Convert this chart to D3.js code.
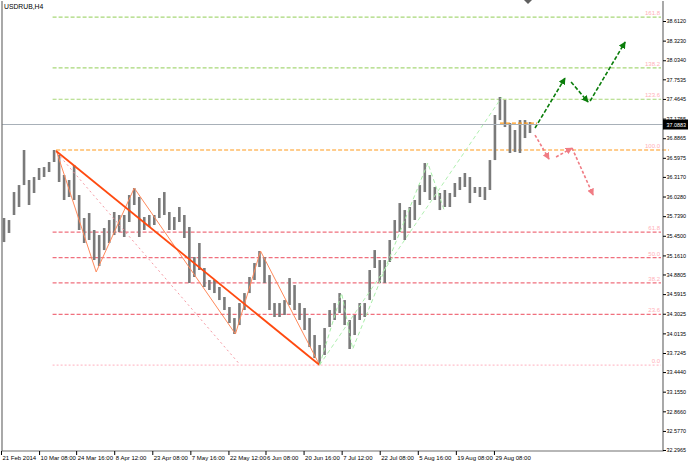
<!DOCTYPE html>
<html><head><meta charset="utf-8">
<script src="https://cdn.jsdelivr.net/npm/d3@7"></script>
<style>
html,body{margin:0;padding:0;background:#fff;}
svg{display:block;font-family:"Liberation Sans",Arial,sans-serif;}
</style></head><body>
<svg id="c" width="688" height="463"></svg>
<script>
// ---- data (bar groups, ~8 H4 bars each) ----
const barHigh = [35.712,35.682,36.094,36.197,36.713,36.271,36.315,36.448,36.462,36.536,
36.713,36.639,36.345,36.271,36.492,36.050,35.712,35.785,35.535,35.461,
35.564,35.682,35.800,35.756,35.756,36.050,36.153,36.021,35.726,35.756,
35.756,36.006,36.094,35.800,35.726,35.874,35.756,35.579,35.137,35.344,
34.976,34.799,34.799,34.696,34.549,34.401,34.239,34.460,34.607,34.843,
35.049,35.226,35.137,34.872,34.460,34.460,34.504,34.828,34.725,34.460,
34.387,34.239,33.989,33.842,34.092,34.357,34.460,34.607,34.504,34.210,
34.284,34.460,34.460,34.946,35.240,35.093,35.093,35.388,35.682,35.932,
35.829,35.874,35.977,36.197,36.521,36.345,36.168,36.080,36.124,36.080,
36.227,36.315,36.374,36.315,36.168,36.168,36.168,36.565,37.228,37.493,
37.449,37.110,37.007,37.154,37.154,37.125];
const barLow = [35.358,35.491,35.756,35.874,36.197,35.903,36.080,36.271,36.315,36.389,
36.536,36.242,35.977,36.021,35.977,35.535,35.344,35.388,35.093,35.005,
35.240,35.344,35.461,35.505,35.432,35.653,35.903,35.432,35.535,35.579,
35.609,35.712,35.756,35.535,35.535,35.653,35.417,34.755,34.843,34.946,
34.696,34.652,34.607,34.504,34.357,34.166,34.004,34.136,34.357,34.607,
34.799,34.990,34.755,34.357,34.254,34.254,34.284,34.431,34.357,34.210,
34.063,33.812,33.650,33.562,33.695,34.107,34.210,34.313,34.136,33.783,
33.989,34.210,34.254,34.504,34.976,34.755,34.755,35.064,35.388,35.505,
35.388,35.564,35.682,35.903,36.094,35.977,35.977,35.829,35.874,35.874,
36.021,36.124,36.168,35.932,36.080,36.021,35.977,36.124,36.565,37.154,
37.051,36.669,36.683,36.669,36.889,36.963];
const lastPrice = 37.0883;

const yTicks = [38.6120,38.3230,38.0340,37.7535,37.4645,37.1755,36.8865,36.5975,36.3170,36.0280,
35.7390,35.4500,35.1610,34.8805,34.5915,34.3025,34.0135,33.7245,33.4440,33.1550,32.8660,32.5770,32.2965];
const xTickPos = [-0.6,7,14.4,22,29.6,37.2,44.8,52.2,59.8,67.4,75,82.6,90.2,97.8];
const xTickLabels = ["21 Feb 2014","10 Mar 08:00","24 Mar 16:00","8 Apr 12:00","23 Apr 08:00","7 May 16:00",
"22 May 12:00","6 Jun 08:00","20 Jun 16:00","7 Jul 12:00","22 Jul 08:00","5 Aug 16:00","19 Aug 08:00","29 Aug 08:00"];

// Fibonacci retracement (anchor high / low)
const fibHigh = 36.713, fibLow = 33.547;
const fibRatios = [1.618,1.382,1.236,1.0,0.618,0.5,0.382,0.236,0.0];
const fibLabels = ["161.8","138.2","123.6","100.0","61.8","50.0","38.2","23.6","0.0"];
const fibStart = [9.7,9.7,9.7,10.4,9.7,9.7,9.7,9.7,9.7];

// wave / trend lines: [index, price]
const mainTrend = [[10.4,36.698],[63,33.547]];
const waveDown = [[10.4,36.713],[18.4,34.917],[26,36.153],[46.2,34.004],[51.2,35.226],[63,33.547]];
const channelPink = [[10.6,36.669],[47,33.562]];
const waveUp = [[63,33.547],[67.4,34.607],[69.6,33.783],[84.6,36.521],[88,35.800]];
const upTrend = [[63,33.547],[99.4,37.493]];
const orangeShort = [[99,37.110],[106.4,37.110]];
// projections
const greenArrows = [[[106,37.037],[112,37.773]],[[113.2,37.714],[116.6,37.419]],[[117,37.434],[124,38.303]]];
const redArrows = [[[106,36.933],[108.8,36.580]],[[110.2,36.610],[113.4,36.742]],[[113.4,36.742],[117.6,36.050]]];

// ---- drawing ----
const svg = d3.select("#c");
const L=2, R=663, T=1, B=451;
const x = d3.scaleLinear().domain([0,105]).range([4,530]);
const y = d3.scaleLinear().domain([32.2965,38.612]).range([450,21]);

const defs = svg.append("defs");
function marker(id,color){
  defs.append("marker").attr("id",id).attr("viewBox","0 0 10 10").attr("refX",9).attr("refY",5)
   .attr("markerWidth",7).attr("markerHeight",7).attr("markerUnits","userSpaceOnUse").attr("orient","auto")
   .append("path").attr("d","M0,0 L10,5 L0,10 z").attr("fill",color);
}
marker("ag","#0a7d0a"); marker("ar","#f07c84");

svg.append("rect").attr("x",0).attr("y",0).attr("width",688).attr("height",463).attr("fill","#fff");

// fib lines
const fibColor = r => r>1 ? "#a8d878" : (r===1 ? "#ff9a1a" : (r===0 ? "#ffc0cb" : "#f0707e"));
fibRatios.forEach((r,i)=>{
  const v = fibLow + r*(fibHigh-fibLow);
  svg.append("line").attr("x1",x(fibStart[i])).attr("x2", r===1?669:661)
   .attr("y1",y(v)).attr("y2",y(v)).attr("stroke",fibColor(r)).attr("stroke-width",1.2)
   .attr("stroke-dasharray", r===0 ? "2,2" : "4,2");
});

// bars
svg.append("g").selectAll("line").data(barHigh).join("line")
 .attr("x1",(d,i)=>x(i)).attr("x2",(d,i)=>x(i))
 .attr("y1",d=>y(d)).attr("y2",(d,i)=>y(barLow[i]))
 .attr("stroke","#7a7a7a").attr("stroke-width",2.6);

const line = d3.line().x(d=>x(d[0])).y(d=>y(d[1]));
svg.append("path").attr("d",line(channelPink)).attr("fill","none").attr("stroke","#f59aa4").attr("stroke-width",1).attr("stroke-dasharray","2,3");
svg.append("path").attr("d",line(waveDown)).attr("fill","none").attr("stroke","#ff8a5c").attr("stroke-width",1);
svg.append("path").attr("d",line(mainTrend)).attr("fill","none").attr("stroke","#ff4a10").attr("stroke-width",1.8);
svg.append("path").attr("d",line(waveUp)).attr("fill","none").attr("stroke","#a8eea8").attr("stroke-width",1).attr("stroke-dasharray","4,3");
svg.append("path").attr("d",line(upTrend)).attr("fill","none").attr("stroke","#b0f0b0").attr("stroke-width",1).attr("stroke-dasharray","4,3");
svg.append("path").attr("d",line(orangeShort)).attr("fill","none").attr("stroke","#ff9a1a").attr("stroke-width",1.2).attr("stroke-dasharray","4,2");

greenArrows.forEach(a=>svg.append("path").attr("d",line(a)).attr("fill","none").attr("stroke","#0a7d0a")
  .attr("stroke-width",1.6).attr("stroke-dasharray","4,2").attr("marker-end","url(#ag)"));
redArrows.forEach(a=>svg.append("path").attr("d",line(a)).attr("fill","none").attr("stroke","#f07c84")
  .attr("stroke-width",1.6).attr("stroke-dasharray","3,2").attr("marker-end","url(#ar)"));

// bid line
svg.append("line").attr("x1",L).attr("x2",R).attr("y1",y(lastPrice)).attr("y2",y(lastPrice)).attr("stroke","#a8b0b8").attr("stroke-width",1);

// fib labels
fibRatios.forEach((r,i)=>{
  const v = fibLow + r*(fibHigh-fibLow);
  svg.append("text").attr("x",660).attr("y",y(v)-2).attr("text-anchor","end").attr("font-size",6)
   .attr("fill","#ffb0b8").text(fibLabels[i]);
});

// frame
svg.append("path").attr("d",`M${L},${T}V${B}H${R}V${T}`).attr("fill","none").attr("stroke","#707070").attr("stroke-width",1.2);
svg.append("path").attr("d","M524,0 L532,0 L528,4 Z").attr("fill","#606060");

// right axis
const ya = svg.append("g").attr("transform",`translate(${R},0)`)
 .call(d3.axisRight(y).tickValues(yTicks).tickSize(3).tickFormat(d3.format(".4f")));
ya.select(".domain").remove();
ya.selectAll("line").attr("stroke","#000");
ya.selectAll("text").attr("font-size",5.4).attr("fill","#000").attr("x",3.5);

// current price box
svg.append("rect").attr("x",R).attr("y",y(lastPrice)-5).attr("width",25).attr("height",10).attr("fill","#000");
svg.append("text").attr("x",R+3.5).attr("y",y(lastPrice)+2).attr("font-size",5.4).attr("fill","#fff").text(lastPrice.toFixed(4));

// bottom axis
const xa = svg.append("g").attr("transform",`translate(0,${B})`)
 .call(d3.axisBottom(x).tickValues(xTickPos).tickSize(4).tickFormat((d,i)=>xTickLabels[i]));
xa.select(".domain").remove();
xa.selectAll("line").attr("stroke","#000");
xa.selectAll("text").attr("font-size",6).attr("fill","#000").attr("text-anchor","start").attr("x",1).attr("y",5).attr("dy","0.71em");

// title
svg.append("text").attr("x",4).attr("y",9).attr("font-size",6.8).attr("fill","#000").text("USDRUB,H4");
</script></body></html>
